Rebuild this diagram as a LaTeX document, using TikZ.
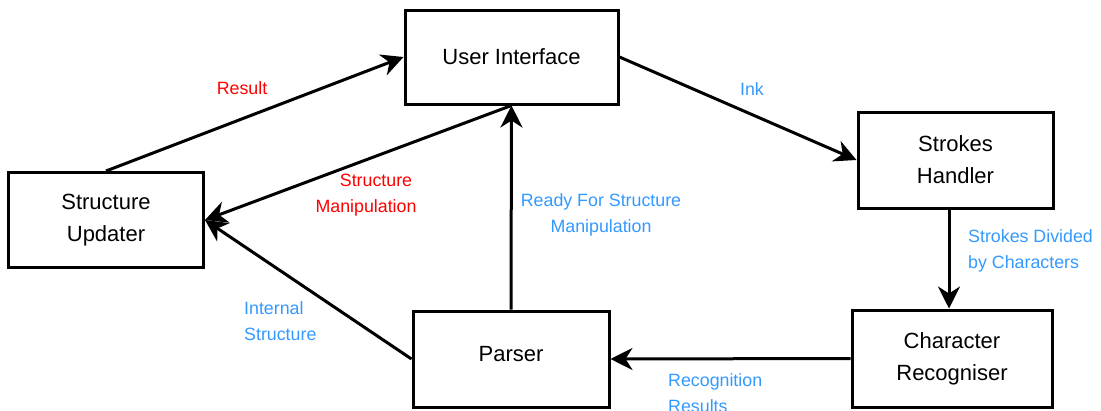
\documentclass[tikz,border=0pt]{standalone}
\usepackage{fontspec}
\setmainfont{Liberation Sans}
\usetikzlibrary{arrows.meta}
\definecolor{labelred}{RGB}{255,0,0}
\definecolor{labelblue}{RGB}{51,153,255}
\tikzset{
  block/.style={draw, line width=3pt, inner sep=0pt, align=center,
    font=\fontsize{22}{32}\selectfont},
  flow/.style={line width=3pt, -{Stealth[length=22pt,width=22pt,inset=7pt]}},
  lbl/.style={inner sep=0pt, font=\fontsize{17.8}{26}\selectfont},
  redlbl/.style={lbl, text=labelred, align=center},
  bluelbl/.style={lbl, text=labelblue, align=center},
  bluelft/.style={lbl, text=labelblue, align=left, anchor=west},
}
\begin{document}
\begin{tikzpicture}[x=1pt,y=-1pt]
\useasboundingbox (0,0) rectangle (1101,410);

% components
\node[block, minimum width=213pt, minimum height=94pt] (ui) at (511.5,57) {User Interface};
\node[block, minimum width=195pt, minimum height=96pt] (sh) at (955.5,160) {Strokes\\Handler};
\node[block, minimum width=195pt, minimum height=95pt] (su) at (106,220) {Structure\\Updater};
\node[block, minimum width=196pt, minimum height=96pt] (p)  at (511,359) {};
\node[font=\fontsize{22}{32}\selectfont, inner sep=0pt] (ptext) at (511,354) {Parser};
\node[block, minimum width=200pt, minimum height=97pt] (cr) at (952,358.5) {Character\\Recogniser};

% data flow
\draw[flow] (su.north) -- (ui.west);
\draw[flow] (ui.south) -- (su.east);
\draw[flow] (p.west) -- (su.east);
\draw[flow] (p.north) -- (ui.south);
\draw[flow] (ui.east) -- (sh.west);
\draw[flow] (sh.south -| 949,0) -- (cr.north -| 949,0);
\draw[flow] (cr.west) -- (p.east);

% flow labels
\node[redlbl] (lres) at (242,88) {Result};
\node[bluelbl] (link) at (752,89) {Ink};
\node[redlbl] (lman) at (366,195) {\hspace*{20pt}Structure\\Manipulation};
\node[bluelbl] (lrdy) at (601,215) {Ready For Structure\\Manipulation};
\node[bluelft] (ldiv) at (968,251) {Strokes Divided\\by Characters};
\node[bluelft] (lint) at (244,321) {Internal\\Structure};
\node[bluelft] (lrec) at (668,393) {Recognition\\Results};
\end{tikzpicture}
\end{document}
